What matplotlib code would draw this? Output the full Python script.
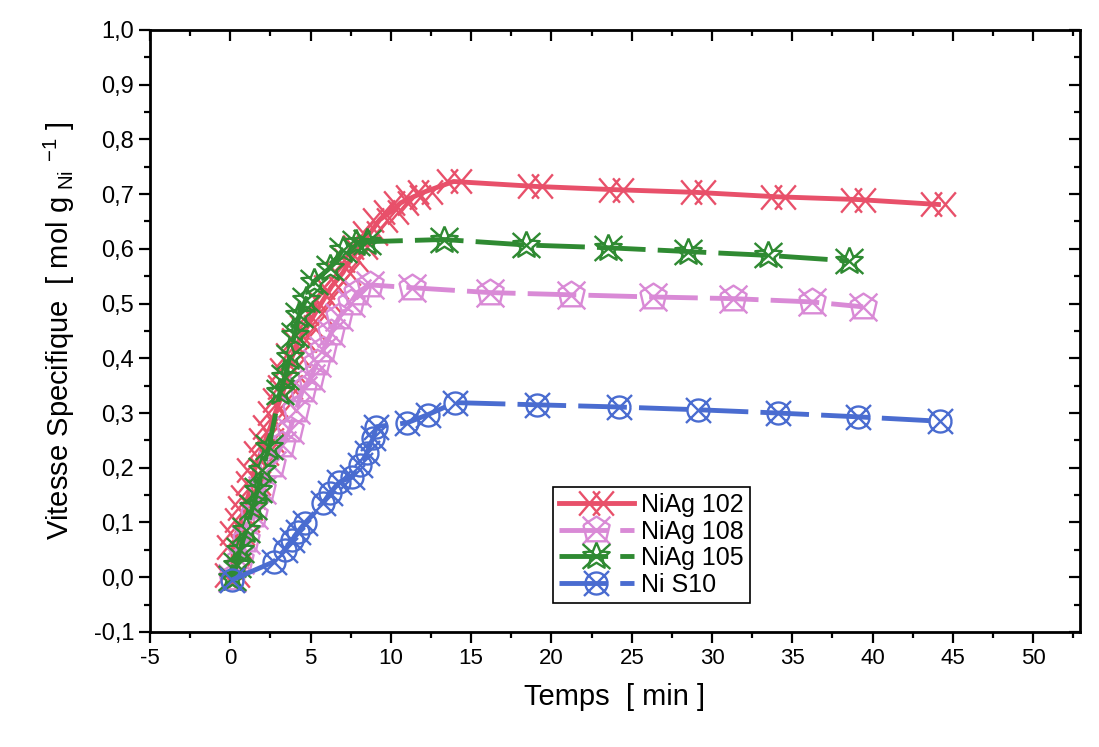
import numpy as np
import matplotlib.pyplot as plt
from matplotlib.path import Path
from matplotlib.ticker import MultipleLocator, FuncFormatter, NullFormatter

plt.rcParams['font.family'] = ['Liberation Sans', 'DejaVu Sans']
plt.rcParams['mathtext.fontset'] = 'custom'
plt.rcParams['mathtext.rm'] = 'Liberation Sans'

# ---- data ----
t_102 = [0.1, 0.2, 0.4, 0.7, 0.9, 1.1, 1.4, 1.5, 1.9, 2.2, 2.5, 2.8, 3.1, 3.4, 3.5,
         3.9, 4.3, 4.8, 5.3, 5.8, 6.3, 7.0, 7.5, 8.1, 8.7, 9.3, 10.0, 10.6, 11.4,
         12.1, 13.9, 19.0, 24.0, 29.1, 34.1, 39.1, 44.1]
v_102 = [0.004, 0.055, 0.081, 0.105, 0.127, 0.147, 0.172, 0.196, 0.227, 0.251, 0.275,
         0.300, 0.324, 0.348, 0.379, 0.406, 0.434, 0.458, 0.483, 0.507, 0.531, 0.556,
         0.580, 0.604, 0.629, 0.653, 0.668, 0.684, 0.695, 0.704, 0.723, 0.714, 0.708,
         0.703, 0.695, 0.690, 0.681]

t_108 = [0.1, 0.6, 1.0, 1.5, 2.0, 2.6, 3.2, 3.7, 4.1, 4.5, 5.0, 5.4, 5.8, 6.3, 6.8,
         7.5, 7.9, 8.7, 11.3, 16.2, 21.2, 26.3, 31.3, 36.2, 39.4]
v_108 = [-0.001, 0.032, 0.068, 0.114, 0.160, 0.205, 0.242, 0.269, 0.306, 0.342, 0.364,
         0.392, 0.416, 0.447, 0.476, 0.501, 0.520, 0.534, 0.529, 0.520, 0.516, 0.512,
         0.509, 0.503, 0.494]

t_105 = [0.1, 0.4, 0.6, 1.0, 1.4, 1.7, 2.0, 2.4, 3.1, 3.4, 3.7, 4.0, 4.3, 4.7, 5.2,
         6.2, 7.0, 7.8, 8.5, 13.3, 18.4, 23.5, 28.5, 33.5, 38.5]
v_105 = [-0.001, 0.022, 0.050, 0.086, 0.129, 0.160, 0.196, 0.238, 0.339, 0.366, 0.403,
         0.443, 0.480, 0.507, 0.540, 0.565, 0.598, 0.611, 0.613, 0.617, 0.607, 0.602,
         0.595, 0.588, 0.578]

t_s10 = [0.1, 2.7, 3.4, 3.85, 4.2, 4.65, 5.8, 6.2, 6.8, 7.6, 8.1, 8.5, 8.9, 9.1, 11.0,
         12.3, 14.0, 19.1, 24.2, 29.1, 34.1, 39.1, 44.2]
v_s10 = [-0.005, 0.028, 0.050, 0.068, 0.083, 0.099, 0.136, 0.154, 0.174, 0.183, 0.205,
         0.227, 0.255, 0.275, 0.282, 0.297, 0.319, 0.315, 0.311, 0.306, 0.300, 0.293,
         0.285]

labels = ["NiAg 102", "NiAg 108", "NiAg 105", "Ni S10"]
colors = ["#e8506a", "#d98ad6", "#2f8a32", "#4a6cd0"]


def seg_path(segments):
    verts, codes = [], []
    for seg in segments:
        verts.append(seg[0])
        codes.append(Path.MOVETO)
        for p in seg[1:]:
            verts.append(p)
            codes.append(Path.LINETO)
    return Path(verts, codes)


# double cross (NiAg 102)
m_102 = seg_path([[(-1, -0.7), (0.2, 0.7)], [(-1, 0.7), (0.2, -0.7)],
                  [(-0.2, -0.7), (1, 0.7)], [(-0.2, 0.7), (1, -0.7)]])

# cross in a pentagon (NiAg 108)
pent = [(-0.85, 0.35), (0, 0.9), (0.85, 0.35), (0.6, -0.7), (-0.6, -0.7), (-0.85, 0.35)]
m_108 = seg_path([[(-0.9, -0.9), (0.9, 0.9)], [(-0.9, 0.9), (0.9, -0.9)], pent])

# open star with cross (NiAg 105)
ang = np.pi / 2 + np.arange(11) * np.pi / 5
rad = np.where(np.arange(11) % 2 == 0, 1.0, 0.45)
star = list(zip(rad * np.cos(ang), rad * np.sin(ang)))
m_105 = seg_path([[(-1, -0.9), (1, 0.9)], [(-1, 0.9), (1, -0.9)], star])

# circle with cross (Ni S10)
th = np.linspace(0, 2 * np.pi, 33)
circ = list(zip(0.75 * np.cos(th), 0.75 * np.sin(th)))
m_s10 = seg_path([[(-0.85, -0.85), (0.85, 0.85)], [(-0.85, 0.85), (0.85, -0.85)], circ])

fig = plt.figure(figsize=(10.99, 7.47), dpi=100)
ax = fig.add_axes([0.1365, 0.154, 0.846, 0.806])

series = [
    (t_102, v_102, m_102, "-", 25),
    (t_108, v_108, m_108, (0, (10, 2.5)), 20),
    (t_105, v_105, m_105, (0, (10, 2.5)), 20),
    (t_s10, v_s10, m_s10, (0, (10, 2.5)), 18),
]
for (t, v, mk, ls, ms), lab, c in zip(series, labels, colors):
    ax.plot(t, v, linestyle=ls, color=c, linewidth=3.5, marker=mk, markersize=ms,
            markerfacecolor="none", markeredgecolor=c, markeredgewidth=1.7,
            label=lab)

ax.set_xlim(-5, 52.9)
ax.set_ylim(-0.1, 1.0)
ax.xaxis.set_major_locator(MultipleLocator(5))
ax.xaxis.set_minor_locator(MultipleLocator(2.5))
ax.yaxis.set_major_locator(MultipleLocator(0.1))
ax.yaxis.set_minor_locator(MultipleLocator(0.05))
ax.yaxis.set_major_formatter(FuncFormatter(lambda y, p: f"{y:.1f}".replace(".", ",").replace("-0,0", "0,0")))
ax.xaxis.set_major_formatter(FuncFormatter(lambda x, p: f"{x:.0f}"))

ax.tick_params(which="both", direction="out", width=1.6)
ax.tick_params(which="major", length=8)
ax.tick_params(which="minor", length=4)
ax.tick_params(axis="y", labelsize=17)
ax.tick_params(axis="x", labelsize=16)
for s in ax.spines.values():
    s.set_linewidth(2)

# inward ticks on top and right
top = ax.secondary_xaxis("top")
right = ax.secondary_yaxis("right")
for sec in (top, right):
    sec.tick_params(which="both", direction="in", width=1.6)
    sec.tick_params(which="major", length=8)
    sec.tick_params(which="minor", length=4)
top.xaxis.set_major_locator(MultipleLocator(5))
top.xaxis.set_minor_locator(MultipleLocator(2.5))
top.xaxis.set_major_formatter(NullFormatter())
right.yaxis.set_major_locator(MultipleLocator(0.1))
right.yaxis.set_minor_locator(MultipleLocator(0.05))
right.yaxis.set_major_formatter(NullFormatter())

ax.set_xlabel("Temps  [ min ]", fontsize=21, labelpad=10)
ax.set_ylabel(r"Vitesse Specifique  [ mol g$_{\ \mathrm{Ni}}$ $^{\mathrm{-1}}$ ]",
              fontsize=21, labelpad=12)

leg = ax.legend(loc="upper left", bbox_to_anchor=(0.433, 0.241), borderaxespad=0,
                fontsize=18, handlelength=3.0, handletextpad=0.3, labelspacing=0.1,
                borderpad=0.25, fancybox=False, framealpha=1, markerscale=1.0)
leg.get_frame().set_edgecolor("black")
leg.get_frame().set_linewidth(1.2)

fig.savefig("out.png", dpi=100)
